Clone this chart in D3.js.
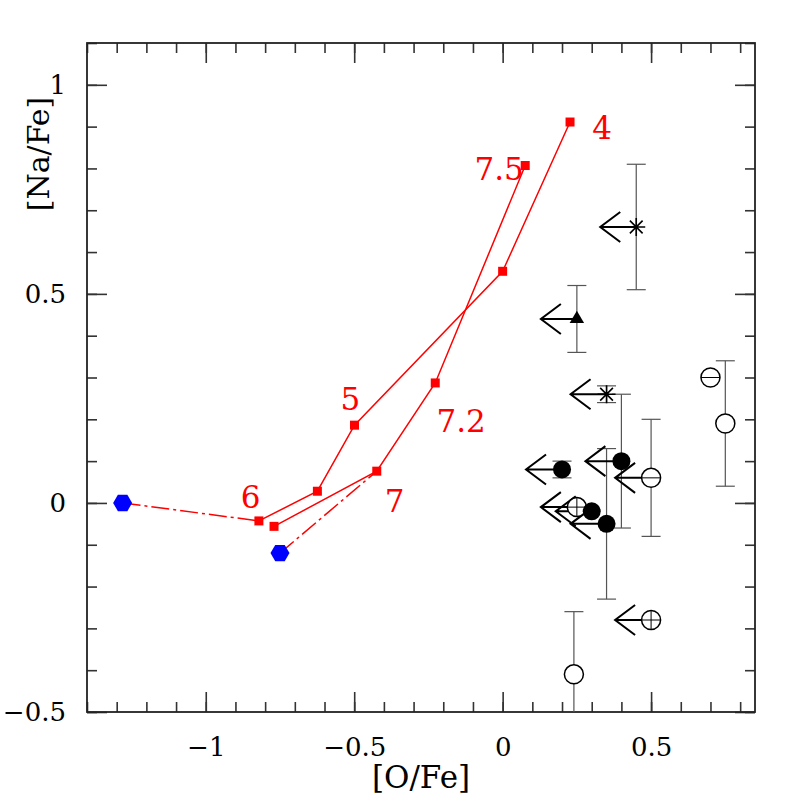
<!DOCTYPE html>
<html>
<head>
<meta charset="utf-8">
<script src="https://cdn.jsdelivr.net/npm/d3@7"></script>
<style>
  body { margin: 0; background: #fff; }
  text { font-family: "DejaVu Serif", serif; }
</style>
</head>
<body>
<script>
"use strict";

// model track 1 (labels 4, 5, 6)
var trackA_O  = [0.227, 0.0, -0.499, -0.624, -0.821];
var trackA_Na = [0.911, 0.554, 0.186, 0.028, -0.043];
// model track 2 (labels 7.5, 7.2, 7)
var trackB_O  = [0.076, -0.227, -0.424, -0.770];
var trackB_Na = [0.807, 0.287, 0.076, -0.056];

// blue starting points, each joined to a track point by a dash-dot line
var startO  = [-1.28, -0.75];
var startNa = [0.0, -0.12];
var linkO   = [-0.821, -0.424];
var linkNa  = [-0.043, 0.076];

// track labels
var labText = ["4", "7.5", "5", "7.2", "6", "7"];
var labO    = [0.335, -0.012, -0.513, -0.140, -0.849, -0.364];
var labNa   = [0.870, 0.772, 0.222, 0.170, -0.011, -0.022];

// observed stars
var obsO     = [0.45, 0.25, 0.35, 0.20, 0.40, 0.50, 0.25, 0.30, 0.35, 0.50, 0.24, 0.70, 0.75];
var obsNa    = [0.66, 0.44, 0.26, 0.08, 0.10, 0.06, -0.01, -0.02, -0.05, -0.28, -0.41, 0.30, 0.19];
var obsErr   = [0.15, 0.08, 0.02, 0.02, 0.16, 0.14, 0, 0, 0.18, 0, 0.15, 0, 0.15];
var obsSym   = ["star", "tri", "star", "dot", "dot", "circMinus", "circPlus", "dot", "dot", "circPlus", "circ", "circMinus", "circ"];
var obsLimit = [1, 1, 1, 1, 1, 1, 1, 1, 1, 1, 0, 0, 0];

// axis ticks
var xMajor = [-1, -0.5, 0, 0.5];
var yMajor = [-0.5, 0, 0.5, 1];
var xMinor = d3.range(-14, 9).map(function(i) { return i / 10; });
var yMinor = d3.range(-5, 12).map(function(i) { return i / 10; });

var margin = {top: 43, right: 42, bottom: 85, left: 87},
    width = 797 - margin.left - margin.right,
    height = 797 - margin.top - margin.bottom;

var x = d3.scaleLinear().domain([-1.4, 0.85]).range([0, width]);
var y = d3.scaleLinear().domain([-0.5, 1.1]).range([height, 0]);

var svg = d3.select("body").append("svg")
    .attr("width", 797)
    .attr("height", 797);

var g = svg.append("g")
    .attr("transform", "translate(" + margin.left + "," + margin.top + ")");

g.append("clipPath").attr("id", "plotclip")
  .append("rect").attr("width", width).attr("height", height);

var tickFmt = function(d) { return d === 0 ? "0" : d3.format("")(d).replace("-", "\u2212"); };

function styleAxis(sel) {
    sel.select(".domain").remove();
    sel.selectAll("line").attr("stroke", "#333").attr("stroke-width", 1.6);
    sel.selectAll("text").attr("font-size", 26).attr("fill", "#000")
       .attr("font-family", "DejaVu Serif");
}

// minor ticks, all four sides
g.append("g").attr("transform", "translate(0," + height + ")")
  .call(d3.axisBottom(x).tickValues(xMinor).tickSize(-10).tickFormat(""))
  .call(styleAxis);
g.append("g")
  .call(d3.axisTop(x).tickValues(xMinor).tickSize(-10).tickFormat(""))
  .call(styleAxis);
g.append("g")
  .call(d3.axisLeft(y).tickValues(yMinor).tickSize(-10).tickFormat(""))
  .call(styleAxis);
g.append("g").attr("transform", "translate(" + width + ",0)")
  .call(d3.axisRight(y).tickValues(yMinor).tickSize(-10).tickFormat(""))
  .call(styleAxis);

// major ticks with labels
g.append("g").attr("transform", "translate(0," + height + ")")
  .call(d3.axisBottom(x).tickValues(xMajor).tickSize(-20).tickPadding(26).tickFormat(tickFmt))
  .call(styleAxis);
g.append("g")
  .call(d3.axisTop(x).tickValues(xMajor).tickSize(-20).tickFormat(""))
  .call(styleAxis);
g.append("g")
  .call(d3.axisLeft(y).tickValues(yMajor).tickSize(-20).tickPadding(21).tickFormat(tickFmt))
  .call(styleAxis);
g.append("g").attr("transform", "translate(" + width + ",0)")
  .call(d3.axisRight(y).tickValues(yMajor).tickSize(-20).tickFormat(""))
  .call(styleAxis);

// frame
g.append("rect")
  .attr("width", width).attr("height", height)
  .attr("fill", "none").attr("stroke", "#222").attr("stroke-width", 1.8);

// axis titles
svg.append("text")
  .attr("x", 421).attr("y", 788)
  .attr("text-anchor", "middle")
  .attr("font-size", 31)
  .text("[O/Fe]");
svg.append("text")
  .attr("transform", "translate(49,154) rotate(-90)")
  .attr("text-anchor", "middle")
  .attr("font-size", 30)
  .text("[Na/Fe]");

var plot = g.append("g").attr("clip-path", "url(#plotclip)");

// --- models ---
var red = "#ff0000";
var line = d3.line().x(function(d) { return x(d[0]); }).y(function(d) { return y(d[1]); });

var trackA = d3.zip(trackA_O, trackA_Na);
var trackB = d3.zip(trackB_O, trackB_Na);

[trackA, trackB].forEach(function(tr) {
    plot.append("path").datum(tr)
      .attr("d", line)
      .attr("fill", "none").attr("stroke", red).attr("stroke-width", 1.5);
});

for (var i = 0; i < startO.length; i++) {
    plot.append("path").datum([[startO[i], startNa[i]], [linkO[i], linkNa[i]]])
      .attr("d", line)
      .attr("fill", "none").attr("stroke", red).attr("stroke-width", 1.5)
      .attr("stroke-dasharray", "18,4,3,4");
}

plot.selectAll(".sq")
  .data(trackA.concat(trackB))
  .enter().append("path")
  .attr("transform", function(d) { return "translate(" + x(d[0]) + "," + y(d[1]) + ")"; })
  .attr("d", d3.symbol().type(d3.symbolSquare).size(81))
  .attr("fill", red);

var hexPath = d3.range(6).map(function(k) {
    var a = k * Math.PI / 3;
    return [9.5 * Math.cos(a), 9.5 * Math.sin(a)];
});
plot.selectAll(".hex")
  .data(d3.zip(startO, startNa))
  .enter().append("path")
  .attr("transform", function(d) { return "translate(" + x(d[0]) + "," + y(d[1]) + ")"; })
  .attr("d", "M" + hexPath.join("L") + "Z")
  .attr("fill", "#0000ff");

plot.selectAll(".lab")
  .data(d3.range(labText.length))
  .enter().append("text")
  .attr("x", function(i) { return x(labO[i]); })
  .attr("y", function(i) { return y(labNa[i]); })
  .attr("text-anchor", "middle")
  .attr("font-size", 31)
  .attr("fill", red)
  .text(function(i) { return labText[i]; });

// --- observations ---
var obs = d3.range(obsO.length);

// error bars
var eb = plot.selectAll(".eb")
  .data(obs.filter(function(i) { return obsErr[i] > 0; }))
  .enter().append("g")
  .attr("stroke", "#555").attr("stroke-width", 1.2);
eb.append("line")
  .attr("x1", function(i) { return x(obsO[i]); })
  .attr("x2", function(i) { return x(obsO[i]); })
  .attr("y1", function(i) { return y(obsNa[i] - obsErr[i]); })
  .attr("y2", function(i) { return y(obsNa[i] + obsErr[i]); });
[-1, 1].forEach(function(s) {
    eb.append("line")
      .attr("x1", function(i) { return x(obsO[i]) - 9.5; })
      .attr("x2", function(i) { return x(obsO[i]) + 9.5; })
      .attr("y1", function(i) { return y(obsNa[i] + s * obsErr[i]); })
      .attr("y2", function(i) { return y(obsNa[i] + s * obsErr[i]); });
});

// upper-limit arrows pointing to lower [O/Fe]
plot.selectAll(".ar")
  .data(obs.filter(function(i) { return obsLimit[i]; }))
  .enter().append("path")
  .attr("fill", "none").attr("stroke", "#000").attr("stroke-width", 2)
  .attr("d", function(i) {
      var px = x(obsO[i]), py = y(obsNa[i]), tip = px - 36;
      return "M" + px + "," + py + "H" + tip +
             "M" + (tip + 20) + "," + (py - 15) + "L" + tip + "," + py + "L" + (tip + 20) + "," + (py + 15);
  });

// symbols
var sym = plot.selectAll(".sym")
  .data(obs)
  .enter().append("g")
  .attr("transform", function(i) { return "translate(" + x(obsO[i]) + "," + y(obsNa[i]) + ")"; });

sym.each(function(i) {
    var s = d3.select(this), t = obsSym[i];
    if (t === "dot") {
        s.append("circle").attr("r", 9).attr("fill", "#000");
    } else if (t === "tri") {
        s.append("path").attr("d", d3.symbol().type(d3.symbolTriangle).size(90)).attr("fill", "#000");
    } else if (t === "star") {
        s.append("path")
          .attr("d", d3.range(4).map(function(k) {
              var a = k * Math.PI / 4, dx = 9 * Math.cos(a), dy = 9 * Math.sin(a);
              return "M" + (-dx) + "," + (-dy) + "L" + dx + "," + dy;
          }).join(""))
          .attr("stroke", "#000").attr("stroke-width", 1.6);
    } else {
        s.append("circle").attr("r", 9.5).attr("fill", "#fff")
          .attr("stroke", "#000").attr("stroke-width", 1.5);
        if (t === "circMinus" || t === "circPlus") {
            s.append("line").attr("x1", -9.5).attr("x2", 9.5)
              .attr("stroke", "#000").attr("stroke-width", 1);
        }
        if (t === "circPlus") {
            s.append("line").attr("y1", -9.5).attr("y2", 9.5)
              .attr("stroke", "#000").attr("stroke-width", 1);
        }
    }
});
</script>
</body>
</html>
